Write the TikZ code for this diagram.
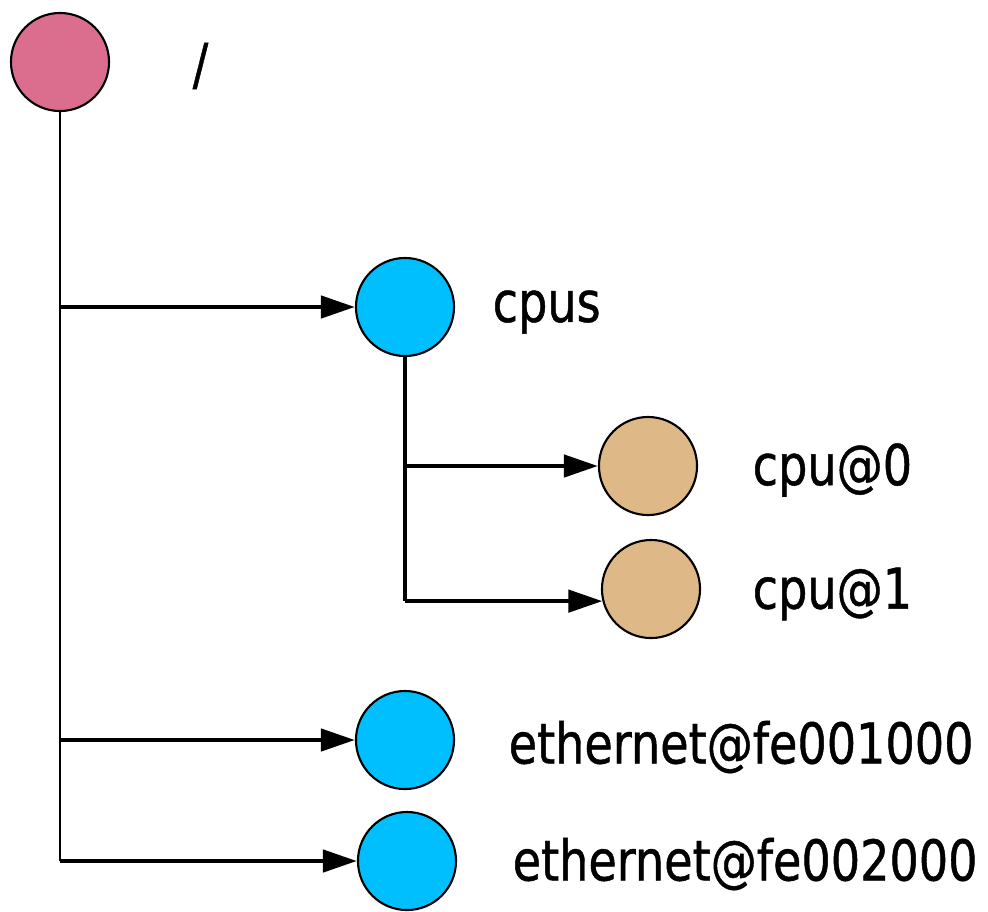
\documentclass[tikz,border=0pt]{standalone}
\usepackage{fontspec}
\setsansfont{DejaVu Sans}[FakeStretch=0.82,FakeBold=0.8]
\usetikzlibrary{positioning,arrows.meta}
\definecolor{rootpink}{HTML}{DB6E8F}
\definecolor{nodeblue}{HTML}{00BFFF}
\definecolor{cputan}{HTML}{DEB887}
\tikzset{
    dt node/.style={
        circle,draw,line width=0.6pt,
        minimum size=0.98cm,inner sep=0pt
    },
    dt label/.style={right,inner sep=0pt,
        font=\sffamily\fontsize{16}{18}\selectfont},
    >={Triangle[length=3.4mm,width=2.2mm]},
    branch/.style={line width=1.3pt,->},
}

\begin{document}
\begin{tikzpicture}[x=0.01cm,y=-0.01cm]
		\useasboundingbox (0,0) rectangle (988,911);
		\node[dt node,fill=rootpink] (root) at (60,62) {};
		\node[dt node,fill=nodeblue] (cpus) at (405,307) {};
		\node[dt node,fill=cputan] (cpu0) at (648,466) {};
		\node[dt node,fill=cputan] (cpu1) at (651,589) {};
		\node[dt node,fill=nodeblue] (eth1) at (405,740) {};
		\node[dt node,fill=nodeblue] (eth2) at (407,861) {};

		\node[dt label] (root label) at (192,66) {/};
		\node[dt label] (cpus label) at (492,312) {cpus};
		\node[dt label] (cpu0 label) at (752,470) {cpu@0};
		\node[dt label] (cpu1 label) at (752,594) {cpu@1};
		\node[dt label] (eth1 label) at (508,747) {ethernet@fe001000};
		\node[dt label] (eth2 label) at (512,864) {ethernet@fe002000};

		\draw[line width=0.7pt] (root.south) -- (root |- eth2);
		\foreach \name in {cpus,eth1,eth2}
		\draw[branch] (root |- \name) -- (\name.west);

		\draw[line width=1.3pt] (cpus.south) -- (cpus |- cpu1.194);
		\draw[branch] (cpus |- cpu0) -- (cpu0.west);
		\draw[branch] (cpus |- cpu1.194) -- (cpu1.194);
	\end{tikzpicture}
\end{document}
